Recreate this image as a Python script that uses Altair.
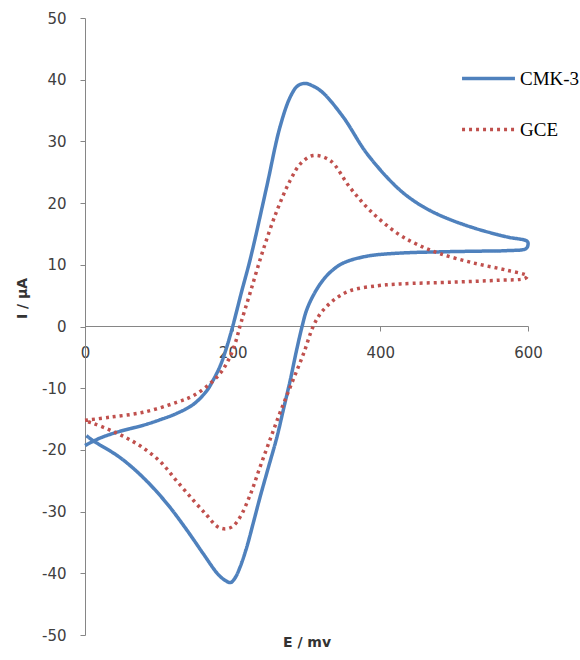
import altair as alt
import pandas as pd

# CMK-3 cyclic voltammogram (forward scan then reverse scan)
cmk_E = [0, 20, 47, 79, 102, 124, 147, 165, 174, 183, 191, 200, 212, 224, 246, 264, 278, 288, 298, 310, 323, 350, 382, 423, 450, 481, 526, 572, 599, 600,
         597, 572, 526, 481, 427, 382, 350, 334, 321, 309, 300, 294, 287, 278, 269, 260, 248, 237, 228, 219, 210, 203, 197, 188, 179, 160, 138, 111, 79, 47, 11, 2]
cmk_I = [-19.3, -18.1, -17.0, -16.0, -15.1, -14.1, -12.6, -10.4, -8.6, -6.4, -3.7, 0.0, 5.6, 11.0, 22.6, 32.3, 37.2, 39.0, 39.4, 38.9, 37.8, 33.9, 28.0, 22.5, 20.0, 18.0, 16.0, 14.5, 13.8, 13.2,
         12.6, 12.3, 12.2, 12.1, 11.9, 11.4, 10.3, 9.0, 7.3, 5.0, 2.6, 0.0, -3.6, -8.7, -13.3, -17.9, -23.0, -27.7, -31.8, -35.8, -39.0, -40.8, -41.5, -41.0, -40.0, -36.8, -33.0, -28.7, -24.5, -21.2, -18.5, -17.7]

# GCE cyclic voltammogram
gce_E = [0, 34, 79, 124, 147, 170, 185, 196, 204, 211, 224, 241, 260, 278, 292, 309, 332, 359, 386, 423, 450, 481, 526, 572, 599,
         596, 560, 500, 427, 396, 359, 336, 319, 309, 296, 280, 264, 251, 237, 224, 210, 200, 190, 179, 165, 147, 124, 102, 79, 57, 34, 11, 0]
gce_I = [-15.2, -14.7, -13.9, -12.3, -11.2, -9.2, -7.3, -5.0, -2.5, 0.5, 5.6, 12.3, 18.8, 23.7, 26.4, 27.7, 26.9, 22.5, 18.8, 15.1, 13.3, 11.8, 10.3, 9.1, 8.2,
         7.8, 7.5, 7.2, 6.9, 6.6, 5.8, 4.2, 2.1, 0.0, -4.4, -9.2, -14.0, -18.2, -22.8, -27.2, -30.9, -32.4, -32.8, -32.4, -30.6, -28.2, -25.0, -21.9, -19.7, -18.1, -16.8, -15.7, -15.3]

series_names = ["CMK-3", "GCE"]
series_colors = ["#4F81BD", "#C0504D"]
x_ticks = [0, 200, 400, 600]
y_ticks = [-50, -40, -30, -20, -10, 0, 10, 20, 30, 40, 50]

df = pd.concat([
    pd.DataFrame({"E": cmk_E, "I": cmk_I, "series": series_names[0], "idx": range(len(cmk_E))}),
    pd.DataFrame({"E": gce_E, "I": gce_I, "series": series_names[1], "idx": range(len(gce_E))}),
])

legend = alt.Legend(
    title=None, orient="none", legendX=375, legendY=32,
    symbolType="stroke", symbolSize=2800, symbolStrokeWidth=3.5,
    labelFont="Liberation Serif", labelFontSize=19, labelColor="black",
    labelOffset=3, rowPadding=12, padding=0,
)

minus_fix = "replace(datum.label, '\u2212', '-')"

chart = alt.Chart(df).mark_line(strokeWidth=3.5, interpolate="catmull-rom").encode(
    x=alt.X("E:Q", scale=alt.Scale(domain=[0, 600], nice=False, zero=False),
            axis=alt.Axis(values=x_ticks, title="E / mv", offset=-309, tickSize=5,
                          labelPadding=14, titleY=309, labelFlush=False)),
    y=alt.Y("I:Q", scale=alt.Scale(domain=[-50, 50], nice=False),
            axis=alt.Axis(values=y_ticks, title="I / µA", tickSize=5, labelPadding=14,
                          titleX=-56, titleY=280, labelExpr=minus_fix)),
    color=alt.Color("series:N", scale=alt.Scale(domain=series_names, range=series_colors), legend=legend),
    strokeDash=alt.StrokeDash("series:N", scale=alt.Scale(domain=series_names, range=[[1, 0], [3, 4]]), legend=legend),
    order=alt.Order("idx:Q"),
).properties(
    width=443, height=617,
    autosize=alt.AutoSizeParams(type="none"),
    padding={"left": 85, "top": 18, "right": 52, "bottom": 25},
).configure_view(stroke=None).configure_axis(
    grid=False, domainColor="#868686", tickColor="#868686", domainWidth=1,
    labelFont="DejaVu Sans", labelFontSize=15, labelColor="#404040",
    titleFont="DejaVu Sans", titleFontSize=14, titleFontWeight="bold", titleColor="#333333",
)

chart.save("out.html", embed_options={"renderer": "svg", "actions": False})
